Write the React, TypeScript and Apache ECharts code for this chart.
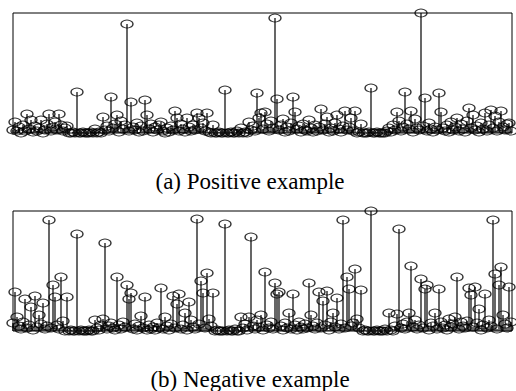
import React, { useEffect, useRef } from "react";
import * as echarts from "echarts";

// Heights (arbitrary units, 0..120) of each stem, index = position along the x axis.
const positiveValues: number[] = [
  3, 11, 2, 6, 0, 8, 2, 19, 4, 13,
  1, 7, 2, 5, 13, 0, 3, 9, 19, 2,
  6, 11, 3, 19, 8, 2, 5, 7, 0, 0,
  1, 0, 41, 0, 0, 1, 0, 0, 0, 1,
  0, 4, 0, 1, 0, 16, 3, 7, 2, 36,
  5, 9, 18, 1, 12, 4, 8, 109, 2, 31,
  6, 3, 10, 1, 7, 2, 33, 18, 4, 9,
  1, 6, 3, 8, 11, 2, 0, 5, 1, 7,
  3, 22, 15, 2, 9, 4, 1, 15, 6, 2,
  8, 3, 20, 15, 5, 10, 2, 20, 1, 0,
  8, 0, 0, 1, 0, 0, 43, 0, 0, 1,
  0, 0, 2, 0, 5, 0, 1, 0, 11, 3,
  7, 2, 40, 15, 20, 4, 21, 9, 2, 12,
  5, 115, 34, 3, 8, 14, 1, 6, 2, 10,
  36, 21, 4, 7, 1, 9, 3, 2, 13, 5,
  1, 8, 2, 6, 24, 3, 9, 16, 1, 5,
  2, 10, 18, 4, 1, 7, 22, 3, 6, 15,
  2, 22, 0, 1, 9, 0, 0, 0, 1, 45,
  0, 0, 1, 0, 0, 0, 0, 2, 5, 1,
  8, 3, 21, 12, 2, 6, 41, 9, 4, 22,
  1, 14, 5, 3, 120, 7, 35, 2, 10, 4,
  1, 6, 3, 40, 21, 5, 2, 8, 1, 11,
  3, 6, 15, 2, 9, 4, 1, 12, 25, 5,
  18, 3, 7, 1, 10, 4, 20, 2, 8, 23,
  5, 17, 2, 11, 22, 6, 3, 9, 10, 2,
];

const negativeValues: number[] = [
  8, 39, 14, 5, 2, 9, 32, 3, 6, 24,
  1, 35, 4, 16, 7, 28, 2, 5, 111, 3,
  46, 34, 6, 2, 54, 10, 0, 34, 0, 1,
  0, 0, 97, 0, 1, 0, 0, 0, 1, 0,
  0, 11, 3, 1, 6, 12, 88, 2, 5, 8,
  3, 1, 54, 6, 2, 9, 4, 46, 32, 38,
  2, 7, 1, 5, 15, 3, 34, 1, 6, 2,
  4, 1, 8, 3, 43, 2, 14, 5, 1, 7,
  35, 3, 27, 37, 2, 6, 18, 1, 29, 11,
  4, 2, 112, 7, 50, 38, 3, 58, 12, 5,
  38, 0, 1, 0, 0, 0, 107, 0, 1, 0,
  0, 2, 0, 0, 14, 3, 7, 1, 14, 94,
  5, 2, 11, 4, 16, 1, 59, 6, 3, 9,
  2, 48, 37, 39, 5, 1, 8, 3, 18, 2,
  37, 6, 1, 9, 4, 2, 7, 3, 48, 16,
  5, 2, 8, 39, 3, 30, 6, 40, 1, 9,
  18, 4, 33, 2, 7, 111, 3, 54, 42, 5,
  8, 62, 12, 3, 41, 0, 1, 0, 0, 120,
  0, 0, 1, 0, 0, 0, 2, 0, 18, 1,
  0, 5, 17, 102, 3, 7, 2, 9, 18, 65,
  4, 11, 2, 6, 52, 3, 42, 46, 1, 8,
  5, 18, 2, 42, 9, 3, 6, 1, 12, 4,
  7, 14, 54, 2, 9, 5, 3, 10, 43, 36,
  4, 44, 8, 22, 1, 6, 37, 3, 11, 5,
  111, 57, 2, 46, 64, 16, 7, 3, 44, 9,
];

const captions: string[] = ["(a) Positive example", "(b) Negative example"];

export default function App() {
  const ref = useRef<HTMLDivElement>(null);

  useEffect(() => {
    if (!ref.current) return;
    const chart = echarts.init(ref.current, undefined, { renderer: "svg" });

    const toPairs = (arr: number[]) => arr.map((v, i) => [i, v]);
    const grids = [
      { left: 13, top: 13, width: 499, height: 120 },
      { left: 13, top: 211, width: 499, height: 120 },
    ];
    const datasets = [positiveValues, negativeValues];

    const stemSeries = (idx: number) => ({
      type: "custom",
      xAxisIndex: idx,
      yAxisIndex: idx,
      clip: false,
      silent: true,
      z: 2,
      data: toPairs(datasets[idx]),
      renderItem: (params: any, api: any) => {
        const x = api.value(0);
        const y = api.value(1);
        const p0 = api.coord([x, 0]);
        const p1 = api.coord([x, y]);
        return {
          type: "line",
          shape: { x1: p0[0], y1: p0[1], x2: p1[0], y2: p1[1] },
          style: { stroke: "#000", lineWidth: 1.2 },
        };
      },
    });

    const markerSeries = (idx: number) => ({
      type: "scatter",
      xAxisIndex: idx,
      yAxisIndex: idx,
      clip: false,
      silent: true,
      z: 3,
      symbol: "circle",
      symbolSize: [12, 8],
      itemStyle: {
        color: "rgba(0,0,0,0)",
        borderColor: "#000",
        borderWidth: 1.1,
      },
      data: toPairs(datasets[idx]),
    });

    const captionStyle = {
      fontFamily: "'Liberation Serif', 'Times New Roman', serif",
      fontSize: 23,
      fill: "#000",
      align: "center",
      verticalAlign: "middle",
    };

    chart.setOption({
      animation: false,
      backgroundColor: "#fff",
      grid: grids.map((g) => ({
        ...g,
        show: true,
        borderColor: "#000",
        borderWidth: 1,
        backgroundColor: "rgba(0,0,0,0)",
      })),
      xAxis: [0, 1].map((i) => ({
        type: "value",
        gridIndex: i,
        min: 0,
        max: 249.5,
        show: false,
        splitLine: { show: false },
      })),
      yAxis: [0, 1].map((i) => ({
        type: "value",
        gridIndex: i,
        min: 0,
        max: 120,
        show: false,
        splitLine: { show: false },
      })),
      series: [stemSeries(0), markerSeries(0), stemSeries(1), markerSeries(1)],
      graphic: [
        {
          type: "text",
          x: 250,
          y: 181,
          style: { ...captionStyle, text: captions[0] },
        },
        {
          type: "text",
          x: 250,
          y: 379,
          style: { ...captionStyle, text: captions[1] },
        },
      ],
    });

    return () => chart.dispose();
  }, []);

  return (
    <div
      ref={ref}
      style={{ position: "fixed", left: 0, top: 0, width: 516, height: 391 }}
    />
  );
}
